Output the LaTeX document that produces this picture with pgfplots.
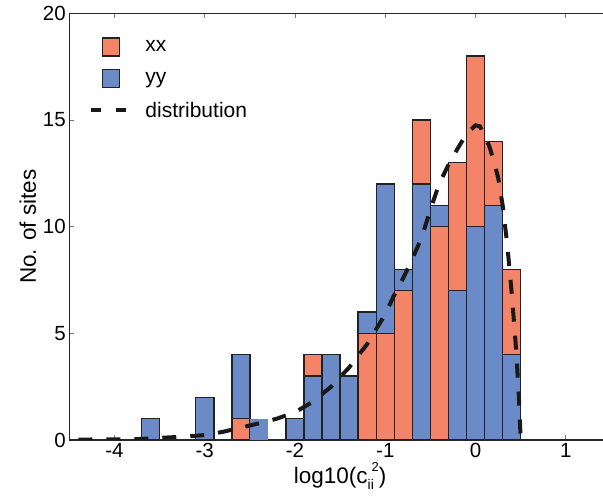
\documentclass[border=0pt]{standalone}
\usepackage{pgfplots}
\pgfplotsset{compat=1.18}
\usepackage{pgfplotstable}
\usepackage{fontspec}
\setmainfont{Liberation Sans}
\definecolor{xxc}{RGB}{243,132,104}
\definecolor{yyc}{RGB}{106,139,199}
\definecolor{edgec}{RGB}{35,35,35}
\pgfplotstableread{
x xx yy
-3.6 0 1
-3.0 0 2
-2.6 1 4
-2.0 0 1
-1.8 4 3
-1.6 0 4
-1.4 0 3
-1.2 5 6
-1.0 5 12
-0.8 7 8
-0.6 15 12
-0.4 10 11
-0.2 13 7
0.0 18 10
0.2 14 11
0.4 8 4
}\hist
\pgfplotstableread{
x d
-4.4 0.02
-4.0 0.03
-3.7 0.05
-3.4 0.12
-3.2 0.17
-3.0 0.23
-2.8 0.38
-2.6 0.58
-2.4 0.78
-2.2 1.0
-2.0 1.3
-1.8 1.8
-1.6 2.5
-1.4 3.4
-1.2 4.5
-1.0 5.9
-0.9 6.8
-0.8 7.6
-0.7 8.5
-0.6 9.45
-0.5 10.8
-0.4 12.05
-0.3 12.9
-0.2 13.65
-0.1 14.35
0.0 14.75
0.05 14.7
0.1 14.2
0.15 13.8
0.2 13.1
0.25 12.3
0.3 11.0
0.35 9.2
0.4 6.9
0.45 4.2
0.48 2.0
0.5 0.0
}\dist
\begin{document}
\begin{tikzpicture}
\begin{axis}[name=ax, scale only axis, width=541.7bp, height=426.7bp,
  xmin=-4.5, xmax=1.5, ymin=0, ymax=20,
  xtick={-4,-3,-2,-1,0,1}, ytick={0,5,10,15,20},
  tick align=inside, major tick length=5bp,
  tick style={black!55, line width=0.9bp},
  axis line style={black!85, line width=1.1bp},
  /pgf/number format/assume math mode=true,
  tick label style={font=\fontsize{20.5bp}{24bp}\selectfont},
  xlabel={log10(c\raisebox{-0.5ex}{\fontsize{14bp}{14bp}\selectfont ii}\kern-0.1em\raisebox{1.0ex}{\fontsize{13bp}{13bp}\selectfont 2})},
  ylabel={No. of sites},
  label style={font=\fontsize{22.5bp}{26bp}\selectfont},
  xlabel style={yshift=2bp},
  legend style={draw=none, fill=none, at={(0,1)}, anchor=north west,
    xshift=20bp, yshift=-24bp, row sep=12bp, inner sep=0pt,
    font=\fontsize{21bp}{25bp}\selectfont},
  legend cell align=left,
]
\addplot[ybar, bar width=0.2, bar shift=0pt, fill=xxc, draw=edgec, line width=1.5bp,
  legend image code/.code={\path[draw=none,fill=none] (0bp,-1bp) rectangle (52bp,1bp);\draw[fill=xxc,draw=edgec,line width=1.2bp] (11bp,-9bp) rectangle (28bp,9bp);}]
  table[x=x, y=xx]{\hist};
\addlegendentry{xx}
\addplot[ybar, bar width=0.2, bar shift=0pt, fill=yyc, draw=edgec, line width=1.5bp,
  legend image code/.code={\path[draw=none,fill=none] (0bp,-1bp) rectangle (52bp,1bp);\draw[fill=yyc,draw=edgec,line width=1.2bp] (11bp,-9bp) rectangle (28bp,9bp);}]
  table[x=x, y=yy]{\hist};
\addlegendentry{yy}
\addplot[ybar, bar width=0.2, bar shift=0pt, fill=xxc, draw=edgec, line width=1.5bp, forget plot,
  restrict expr to domain={\thisrow{yy}-\thisrow{xx}}{0.5:100}]
  table[x=x, y=xx]{\hist};
\addplot[ybar, bar width=0.2, bar shift=0pt, fill=yyc, draw=none, forget plot]
  coordinates {(-2.4,1)};
\addplot[black!90, line width=4bp, dash pattern=on 14bp off 14bp,
  legend image code/.code={\path[draw=none,fill=none] (0bp,-1bp) rectangle (52bp,1bp);\draw[black!90,line width=4bp,dash pattern=on 10bp off 15bp] (0bp,0bp) -- (35bp,0bp);}]
  table[x=x, y=d]{\dist};
\addlegendentry{distribution}
\end{axis}
\pgfresetboundingbox
\path[use as bounding box] ([xshift=-69.3bp,yshift=-57bp]ax.south west) rectangle ++(603bp,497bp);
\end{tikzpicture}
\end{document}
